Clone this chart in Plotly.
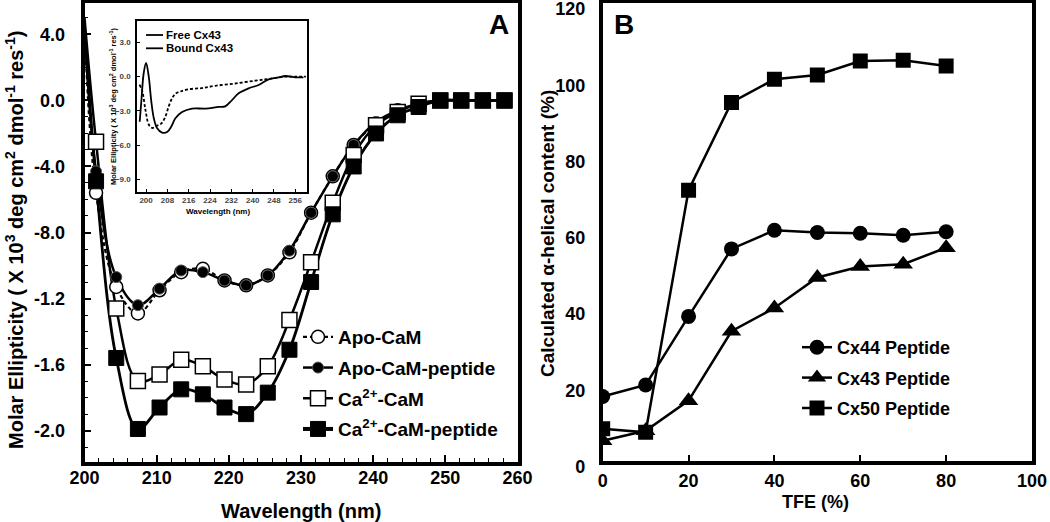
import plotly.graph_objects as go

# ---------------- Panel A data (main CD spectra) ----------------
wavelength = [201.6, 204.4, 207.4, 210.4, 213.4, 216.4, 219.4, 222.4, 225.4, 228.4,
              231.4, 234.4, 237.3, 240.4, 243.4, 246.3, 249.3, 252.2, 255.2, 258.2]
apo_cam = [-5.6, -11.3, -12.9, -11.5, -10.4, -10.2, -10.9, -11.2, -10.6, -9.2,
           -6.8, -4.6, -2.7, -1.4, -0.6, -0.2, 0.0, 0.0, 0.0, 0.0]
apo_cam_pep = [-4.3, -10.7, -12.4, -11.4, -10.3, -10.4, -10.9, -11.2, -10.6, -9.1,
               -6.8, -4.6, -2.7, -1.3, -0.6, -0.2, 0.0, 0.0, 0.0, 0.0]
ca_cam = [-2.5, -12.6, -17.0, -16.6, -15.7, -16.1, -16.9, -17.2, -16.1, -13.3,
          -9.8, -6.2, -3.3, -1.5, -0.7, -0.2, 0.0, 0.0, 0.0, 0.0]
ca_cam_pep = [-4.9, -15.6, -19.9, -18.6, -17.5, -17.8, -18.6, -19.0, -17.7, -15.1,
              -11.0, -6.9, -4.0, -2.0, -0.9, -0.4, 0.0, 0.0, 0.0, 0.0]
# where the continuous curves enter at 200 nm
curve_start_wl = 200.0
curve_start = {"apo": 4.5, "apo_pep": 4.5, "ca": 5.0, "ca_pep": 4.5}

a_ytick_vals = [4, 0, -4, -8, -12, -16, -20]
a_ytick_text = ["4.0", "0.0", "-4.0", "-8.0", "-1.2", "-1.6", "-2.0"]
a_xtick_vals = [200, 210, 220, 230, 240, 250, 260]

# ---------------- Inset data (free / bound Cx43) ----------------
free_wl = [197.5, 198.5, 199.75, 201.0, 202.25, 204.1, 205.75, 207.25, 208.5, 209.75,
           211.0, 212.9, 216.0, 221.0, 226.0, 233.5, 241.0, 246.0, 252.2, 256.0, 260.0]
free_cx43 = [-0.7, -1.2, -2.9, -4.2, -4.5, -4.3, -4.1, -3.5, -2.6, -1.9,
             -1.5, -1.3, -1.1, -1.0, -0.8, -0.6, -0.35, -0.2, 0.0, 0.0, 0.0]
bound_wl = [197.6, 198.25, 199.1, 200.0, 201.0, 201.9, 202.9, 204.1, 206.0, 207.9,
            209.4, 211.0, 213.5, 217.25, 222.25, 227.25, 229.7, 232.25, 234.75, 238.5,
            242.25, 246.0, 249.75, 252.25, 256.0, 259.1]
bound_cx43 = [-3.95, -2.05, 0.3, 1.2, 0.0, -2.05, -3.65, -4.5, -4.9, -4.85,
              -4.4, -3.65, -3.1, -2.8, -2.8, -2.65, -2.6, -2.05, -1.46, -1.02,
              -0.73, -0.23, -0.06, 0.06, -0.06, -0.06]
inset_names = ["Free Cx43", "Bound Cx43"]
inset_xtick_vals = [200, 208, 216, 224, 232, 240, 248, 256]
inset_ytick_vals = [3, 0, -3, -6, -9]

# ---------------- Panel B data (helical content vs TFE) ----------------
tfe = [0, 10, 20, 30, 40, 50, 60, 70, 80]
cx44 = [16.8, 19.8, 37.8, 55.5, 60.4, 59.8, 59.6, 59.1, 60.0]
cx43 = [5.2, 7.8, 15.7, 33.9, 40.0, 48.0, 50.9, 51.5, 55.8]
cx50 = [8.3, 7.4, 70.9, 93.9, 100.0, 101.1, 104.8, 105.0, 103.5]

FONT = "Arial, Liberation Sans, sans-serif"
BLACK = "black"
W, H = 1050, 522

fig = go.Figure()

# ---- Panel A curves (spline lines) and markers ----
series_a = [
    ("Apo-CaM", apo_cam, "apo", dict(symbol="circle", size=13, color="white", line=dict(color=BLACK, width=1.5)), dict(color=BLACK, width=2.2, dash="4px,3px")),
    ("Apo-CaM-peptide", apo_cam_pep, "apo_pep", dict(symbol="circle", size=11, color=BLACK, line=dict(color="#555", width=1)), dict(color=BLACK, width=2.5)),
    ("Ca<sup>2+</sup>-CaM", ca_cam, "ca", dict(symbol="square", size=15, color="white", line=dict(color=BLACK, width=1.5)), dict(color=BLACK, width=2.5)),
    ("Ca<sup>2+</sup>-CaM-peptide", ca_cam_pep, "ca_pep", dict(symbol="square", size=15, color=BLACK, line=dict(color=BLACK, width=1)), dict(color=BLACK, width=2.8)),
]
for name, vals, key, mk, ln in series_a:
    fig.add_trace(go.Scatter(
        x=[curve_start_wl] + wavelength, y=[curve_start[key]] + vals,
        mode="lines", line=dict(shape="spline", smoothing=1.0, **ln),
        xaxis="x", yaxis="y", showlegend=False, hoverinfo="skip"))
for name, vals, key, mk, ln in series_a:
    fig.add_trace(go.Scatter(
        x=wavelength, y=vals, mode="markers", marker=mk,
        xaxis="x", yaxis="y", showlegend=False, name=name))
# legend entries for panel A
for i, (name, vals, key, mk, ln) in enumerate(series_a):
    lw = dict(ln)
    if key == "ca_pep":
        lw["width"] = 4
    fig.add_trace(go.Scatter(
        x=[None], y=[None], mode="lines+markers", name=name, marker=mk, line=lw,
        xaxis="x", yaxis="y", legend="legend", legendgroup="a%d" % i, showlegend=True))

# ---- Inset ----
fig.add_trace(go.Scatter(x=free_wl, y=free_cx43, mode="lines",
                         line=dict(color=BLACK, width=1.8, dash="3px,2px", shape="spline"),
                         xaxis="x2", yaxis="y2", showlegend=False, name=inset_names[0]))
fig.add_trace(go.Scatter(x=bound_wl, y=bound_cx43, mode="lines",
                         line=dict(color=BLACK, width=1.8, shape="spline"),
                         xaxis="x2", yaxis="y2", showlegend=False, name=inset_names[1]))

# ---- Panel B ----
series_b = [
    ("Cx44 Peptide", cx44, dict(symbol="circle", size=15, color=BLACK)),
    ("Cx43 Peptide", cx43, dict(symbol="triangle-up", size=17, color=BLACK)),
    ("Cx50 Peptide", cx50, dict(symbol="square", size=15, color=BLACK)),
]
for i, (name, vals, mk) in enumerate(series_b):
    fig.add_trace(go.Scatter(x=tfe, y=vals, mode="lines+markers", name=name,
                             marker=mk, line=dict(color=BLACK, width=2.5),
                             xaxis="x3", yaxis="y3", legend="legend3",
                             legendgroup="b%d" % i))

tick_font = dict(family=FONT, size=18, color=BLACK, weight="bold")
inset_font = dict(family=FONT, size=8, color="#444", weight="bold")

fig.update_layout(
    width=W, height=H,
    margin=dict(l=0, r=0, t=0, b=0, autoexpand=False),
    paper_bgcolor="white", plot_bgcolor="white",
    showlegend=True,
    xaxis=dict(domain=[84.5/W, 517.5/W], range=[200, 260], anchor="y",
               tickmode="array", tickvals=a_xtick_vals, ticks="inside", ticklen=7,
               tickwidth=1.5, tickcolor=BLACK, tickfont=tick_font, automargin=False,
               showline=True, linewidth=3.5, linecolor=BLACK, mirror=True,
               showgrid=False, zeroline=False, ticklabelstandoff=-3,
               ticklabeloverflow="allow",
               minor=dict(tickmode="linear", tick0=200, dtick=2, ticks="inside",
                          ticklen=4, tickwidth=1.2, tickcolor=BLACK, showgrid=False)),
    yaxis=dict(domain=[1-462/H, 1-3/H], range=[-21.9, 5.9], anchor="x",
               tickmode="array", tickvals=a_ytick_vals, ticktext=a_ytick_text,
               ticks="inside", ticklen=7, tickwidth=1.5, tickcolor=BLACK,
               tickfont=tick_font, showline=True, linewidth=3.5, linecolor=BLACK,
               mirror=True, showgrid=False, zeroline=False, ticklabelstandoff=12,
               automargin=False, ticklabeloverflow="allow",
               minor=dict(tickmode="linear", tick0=0, dtick=1, ticks="inside",
                          ticklen=4, tickwidth=1.2, tickcolor=BLACK, showgrid=False)),
    xaxis2=dict(domain=[137.3/W, 307/W], range=[196.7, 260.4], anchor="y2",
                tickmode="array", tickvals=inset_xtick_vals, ticks="inside",
                ticklen=3, tickcolor=BLACK, tickfont=inset_font, automargin=False,
                showline=True, linewidth=2, linecolor=BLACK, mirror=True,
                showgrid=False, zeroline=False),
    yaxis2=dict(domain=[1-191.7/H, 1-20.7/H], range=[-10.09, 4.91], anchor="x2",
                tickmode="array", tickvals=inset_ytick_vals, tickformat=".1f",
                ticks="inside", ticklen=3, tickcolor=BLACK, tickfont=inset_font,
                showline=True, linewidth=2, linecolor=BLACK, mirror=True,
                showgrid=False, zeroline=False, ticklabelstandoff=3, automargin=False),
    xaxis3=dict(domain=[602.7/W, 1032/W], range=[0, 100], anchor="y3",
                tickmode="linear", tick0=0, dtick=20, ticks="inside", ticklen=6,
                tickwidth=1.5, tickcolor=BLACK, tickfont=tick_font, automargin=False,
                showline=True, linewidth=3.5, linecolor=BLACK, mirror=True,
                showgrid=False, zeroline=False, ticklabelstandoff=1,
                ticklabeloverflow="allow"),
    yaxis3=dict(domain=[1-460.5/H, 1-3/H], range=[0, 120], anchor="x3",
                tickmode="linear", tick0=0, dtick=20, ticks="",
                tickfont=tick_font, showline=True, linewidth=3.5, linecolor=BLACK,
                mirror=True, showgrid=False, zeroline=False, ticklabelstandoff=10,
                ticklabelshift=6,
                automargin=False, ticklabeloverflow="allow"),
    legend=dict(x=298/W, y=1-318/H, xanchor="left", yanchor="top",
                bgcolor="rgba(0,0,0,0)", traceorder="grouped", tracegroupgap=3,
                font=dict(family=FONT, size=19, color=BLACK, weight="bold")),
    legend3=dict(x=797/W, y=1-329/H, xanchor="left", yanchor="top",
                 bgcolor="rgba(0,0,0,0)", traceorder="grouped", tracegroupgap=4,
                 font=dict(family=FONT, size=18, color=BLACK, weight="bold")),
)

# inset key: short solid strokes with labels (as drawn in the reference)
for i, nm in enumerate(inset_names):
    yk = 1 - (35 + 13.3 * i) / H
    fig.add_shape(type="line", xref="paper", yref="paper",
                  x0=146/W, x1=163/W, y0=yk, y1=yk,
                  line=dict(color=BLACK, width=1.8))
    fig.add_annotation(text=nm, xref="paper", yref="paper", x=164/W, y=yk,
                       xanchor="left", yanchor="middle", showarrow=False,
                       font=dict(family=FONT, size=11.5, color=BLACK, weight="bold"))

ann = [
    # panel letters
    dict(text="A", x=499/W, y=1-25/H, font=dict(size=28)),
    dict(text="B", x=624/W, y=1-25/H, font=dict(size=28)),
    # panel A titles
    dict(text="Wavelength (nm)", x=301/W, y=1-511/H, font=dict(size=20)),
    dict(text="Molar Ellipticity ( X 10<sup>3</sup> deg cm<sup>2</sup> dmol<sup>-1</sup> res<sup>-1</sup>)",
         x=14/W, y=1-240/H, textangle=-90, font=dict(size=20)),
    # inset titles
    dict(text="Wavelength (nm)", x=218/W, y=1-211/H, font=dict(size=8)),
    dict(text="Molar Ellipticity ( X 10<sup>3</sup> deg cm<sup>2</sup> dmol<sup>-1</sup> res<sup>-1</sup>)",
         x=113/W, y=1-107/H, textangle=-90, font=dict(size=7.5)),
    # panel B titles
    dict(text="TFE (%)", x=815/W, y=1-502/H, font=dict(size=18)),
    dict(text="Calculated α-helical content (%)", x=547/W, y=1-234/H,
         textangle=-90, font=dict(size=19)),
]
for a in ann:
    f = a.pop("font")
    fig.add_annotation(xref="paper", yref="paper", showarrow=False,
                       xanchor="center", yanchor="middle",
                       font=dict(family=FONT, color=BLACK, weight="bold", **f), **a)

fig.write_html("out.html", config={"displayModeBar": False},
               post_script="document.body.style.margin='0px';document.body.style.padding='0px';document.body.style.overflow='hidden';")
